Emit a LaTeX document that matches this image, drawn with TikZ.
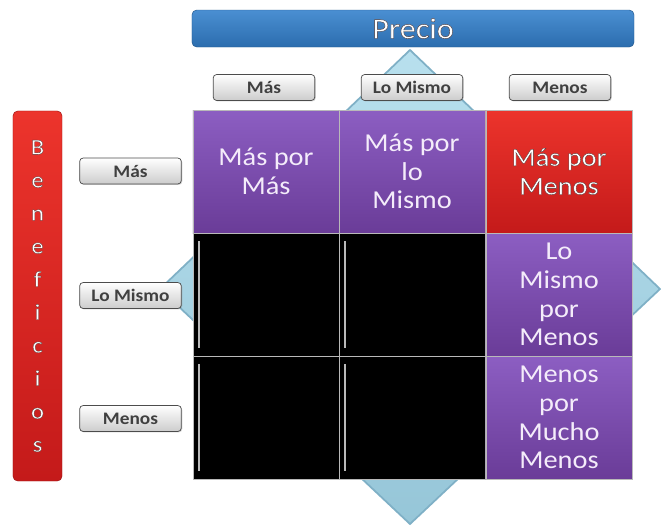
\documentclass[tikz,border=0pt]{standalone}
\usepackage{fontspec}
\setmainfont{Carlito}[FakeStretch=1.1]
\newfontface\outlinefont{Carlito}[FakeStretch=1.1, FakeBold=1.3]
\usepackage{tikz}
\usetikzlibrary{positioning, shadows}
\usepackage{xcolor}
\definecolor{bluetop}{HTML}{4A8FD2}
\definecolor{bluebot}{HTML}{2C6DAE}
\definecolor{redtop}{HTML}{EC342C}
\definecolor{redbot}{HTML}{C41A1A}
\definecolor{purpletop}{HTML}{8C5EC2}
\definecolor{purplebot}{HTML}{6A3C98}
\definecolor{celltext}{HTML}{F4ECFA}
\definecolor{diamtop}{HTML}{B8E0EE}
\definecolor{diambot}{HTML}{96C6D8}
\definecolor{diamline}{HTML}{7FB0C6}
\tikzset{cell/.style={rectangle, draw=gray!55, line width=0.8pt,
           minimum width=4.38cm, minimum height=3.69cm, inner sep=1pt,
           align=center, font=\fontsize{22}{24.5}\selectfont, text=celltext},
         purplecell/.style={cell, top color=purpletop, bottom color=purplebot},
         redcell/.style={cell, top color=redtop, bottom color=redbot, text=white},
         blackcell/.style={cell, fill=black,
           path picture={\draw[gray!55, line width=1.2pt]
             ([xshift=5pt,yshift=-7pt]path picture bounding box.north west) --
             ([xshift=5pt,yshift=7pt]path picture bounding box.south west);}},
         btn/.style={rectangle, rounded corners=3pt, draw=black!70, line width=0.6pt,
           top color=white, bottom color=gray!40, minimum width=3.05cm,
           minimum height=0.78cm, inner sep=0pt, text=black!75,
           font=\fontsize{15}{17}\selectfont\bfseries,
           drop shadow={opacity=0.35, shadow xshift=0.8pt, shadow yshift=-0.8pt}},
         bar/.style={rectangle, rounded corners=4pt, inner sep=0pt, text=white}}
% white letters with a dark rim
\newcommand{\glow}[1]{{\outlinefont\special{pdf:code 0.3 0.22 0.22 RG}#1}}

\begin{document}
\begin{tikzpicture}[x=0.03cm, y=-0.03cm]
    \useasboundingbox (0,0) rectangle (661,526);

    % Diamond behind the grid
    \draw[diamline, line width=1.5pt, top color=diamtop, bottom color=diambot]
        (410,50) -- (660,289) -- (410,524) -- (160,289) -- cycle;

    % Axis bars
    \node[bar, top color=bluetop, bottom color=bluebot, draw=bluebot!80!black,
          minimum width=13.26cm, minimum height=1.11cm,
          font=\fontsize{25}{28}\selectfont] (precio) at (413,28.5) {\glow{Precio}};
    \node[bar, top color=redtop, bottom color=redbot, draw=redbot!80!black,
          minimum width=1.47cm, minimum height=11.1cm, align=center,
          font=\fontsize{19}{28.2}\selectfont] (benef) at (37.5,296)
        {\glow{B}\\\glow{e}\\\glow{n}\\\glow{e}\\\glow{f}\\\glow{i}\\\glow{c}\\\glow{i}\\\glow{o}\\\glow{s}};

    % Column buttons (precio)
    \node[btn] (colMas)    at (264,87.5) {Más};
    \node[btn] (colMismo)  at (412,87.5) {Lo Mismo};
    \node[btn] (colMenos)  at (560,87.5) {Menos};

    % Row buttons (beneficios)
    \node[btn] (rowMas)    at (130.5,171) {Más};
    \node[btn] (rowMismo)  at (130.5,295.5) {Lo Mismo};
    \node[btn] (rowMenos)  at (130.5,418.5) {Menos};

    % Grid
    \node[purplecell] (masMas)     at (266,171.5) {Más por\\Más};
    \node[purplecell] (masMismo)   at (412,171.5) {Más por\\lo\\Mismo};
    \node[redcell]    (masMenos)   at (559,171.5) {\glow{Más por}\\\glow{Menos}};
    \node[blackcell]  (mismoMas)   at (266,294.5) {};
    \node[blackcell]  (mismoMismo) at (412,294.5) {};
    \node[purplecell] (mismoMenos) at (559,294.5) {Lo\\Mismo\\por\\Menos};
    \node[blackcell]  (menosMas)   at (266,417.5) {};
    \node[blackcell]  (menosMismo) at (412,417.5) {};
    \node[purplecell] (menosMenos) at (559,417.5) {Menos\\por\\Mucho\\Menos};
\end{tikzpicture}
\end{document}
